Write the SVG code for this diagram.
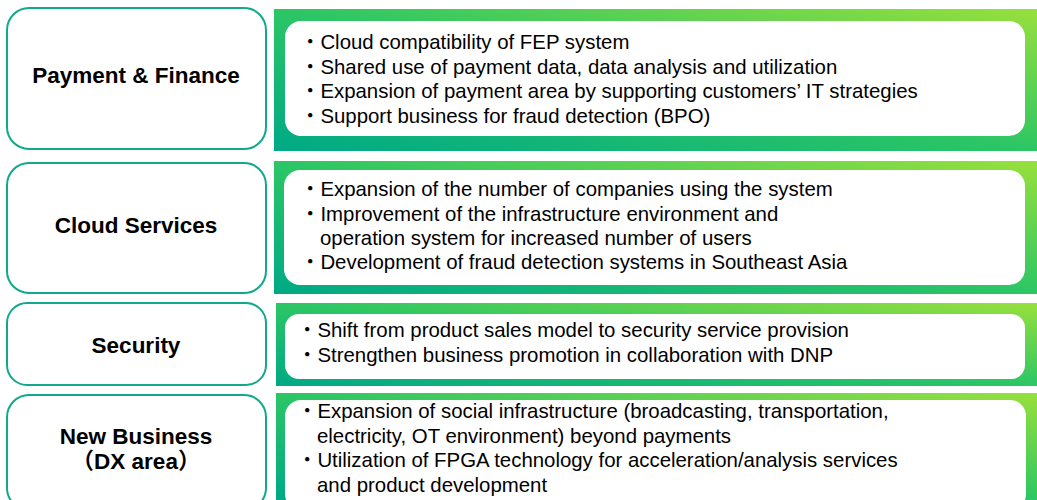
<svg xmlns="http://www.w3.org/2000/svg" width="1037" height="500" viewBox="0 0 1037 500">
<defs>
<linearGradient id="g" x1="0" y1="1" x2="1" y2="0">
<stop offset="0" stop-color="#00a985"/>
<stop offset="0.5" stop-color="#2cc665"/>
<stop offset="1" stop-color="#98e03c"/>
</linearGradient>
<style>
.lbl{fill:none;stroke:#12a98a;stroke-width:2}
.pan{fill:url(#g)}
.inn{fill:#ffffff}
.t{font-family:"Liberation Sans","Noto Sans CJK JP",sans-serif;font-weight:bold;font-size:22.5px;fill:#000;text-anchor:middle}
.b{font-family:"Liberation Sans","Noto Sans CJK JP",sans-serif;font-size:20.4px;fill:#000}
</style>
</defs>
<rect width="1037" height="500" fill="#ffffff"/>
<g id="payment">
<rect class="lbl" x="7" y="8" width="259" height="141" rx="22"/>
<text class="t" x="136" y="83">Payment &amp; Finance</text>
<rect class="pan" x="274" y="9" width="763" height="142"/>
<rect class="inn" x="285" y="21" width="740" height="115" rx="16"/>
<text class="b" x="300" y="49">・Cloud compatibility of FEP system</text>
<text class="b" x="300" y="74">・Shared use of payment data, data analysis and utilization</text>
<text class="b" x="300" y="98">・Expansion of payment area by supporting customers’ IT strategies</text>
<text class="b" x="300" y="123">・Support business for fraud detection (BPO)</text>
</g>
<g id="cloud">
<rect class="lbl" x="7" y="163" width="259" height="130" rx="22"/>
<text class="t" x="136" y="233">Cloud Services</text>
<rect class="pan" x="274" y="161" width="763" height="133"/>
<rect class="inn" x="284" y="170" width="741" height="115" rx="16"/>
<text class="b" x="300" y="196">・Expansion of the number of companies using the system</text>
<text class="b" x="300" y="221">・Improvement of the infrastructure environment and</text>
<text class="b" x="320" y="245">operation system for increased number of users</text>
<text class="b" x="300" y="269">・Development of fraud detection systems in Southeast Asia</text>
</g>
<g id="security">
<rect class="lbl" x="7" y="303" width="259" height="82" rx="20"/>
<text class="t" x="136" y="353">Security</text>
<rect class="pan" x="276" y="303" width="761" height="83"/>
<rect class="inn" x="285" y="314" width="740" height="65" rx="14"/>
<text class="b" x="297" y="337">・Shift from product sales model to security service provision</text>
<text class="b" x="297" y="362">・Strengthen business promotion in collaboration with DNP</text>
</g>
<g id="newbiz">
<rect class="lbl" x="7" y="395" width="259" height="115" rx="22"/>
<text class="t" x="136" y="444">New Business</text>
<text class="t" x="136" y="469">（DX area）</text>
<rect class="pan" x="276" y="393" width="761" height="107"/>
<rect class="inn" x="285" y="400" width="741" height="110" rx="16"/>
<text class="b" x="297" y="418">・Expansion of social infrastructure (broadcasting, transportation,</text>
<text class="b" x="317" y="443">electricity, OT environment) beyond payments</text>
<text class="b" x="297" y="467">・Utilization of FPGA technology for acceleration/analysis services</text>
<text class="b" x="317" y="492">and product development</text>
</g>
<g id="connectors"></g>
</svg>
